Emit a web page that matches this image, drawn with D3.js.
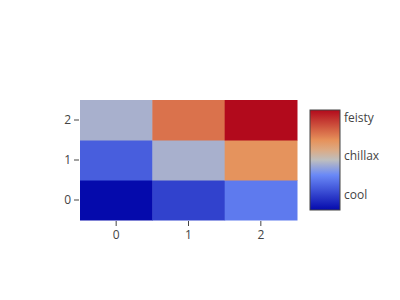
<!DOCTYPE html>
<html>
<head>
<meta charset="utf-8">
<script src="https://cdn.jsdelivr.net/npm/d3@7"></script>
<style>
  body { margin: 0; background: #fff; }
  text { font-family: "Open Sans", sans-serif; font-size: 12px; fill: #444; }
</style>
</head>
<body>
<script>
  // data
  var xCats = [0, 1, 2];
  var yCats = [0, 1, 2];
  // z[row][col], row = y
  var zValues = [
    [0, 1, 2],
    [1.5, 3, 4.5],
    [3, 5, 6.5]
  ];
  var cbTickVals = [1, 3.5, 6];
  var cbTickText = ['cool', 'chillax', 'feisty'];
  // plotly RdBu scale
  var scaleStops = [0, 0.35, 0.5, 0.6, 0.7, 1];
  var scaleColors = ['rgb(5,10,172)', 'rgb(106,137,247)', 'rgb(190,190,190)',
                     'rgb(220,170,132)', 'rgb(230,145,90)', 'rgb(178,10,28)'];

  var width = 400, height = 300;
  var plot = {left: 80, right: 297, top: 100, bottom: 220};
  var cb = {x: 310, w: 30, top: 110, bottom: 210};

  var svg = d3.select('body').append('svg').attr('width', width).attr('height', height);

  var zMin = 0, zMax = 6.5;
  var norm = d3.scaleLinear().domain([zMin, zMax]).range([0, 1]);
  var color = d3.scaleLinear().domain(scaleStops).range(scaleColors).interpolate(d3.interpolateRgb);

  var x = d3.scaleBand().domain(xCats).range([plot.left, plot.right]);
  var y = d3.scaleBand().domain(yCats).range([plot.bottom, plot.top]);

  var cells = [];
  zValues.forEach(function (row, i) {
    row.forEach(function (v, j) {
      cells.push({x: xCats[j], y: yCats[i], v: v});
    });
  });

  svg.append('g').selectAll('rect')
    .data(cells)
    .enter()
    .append('rect')
    .attr('x', function (d) { return x(d.x); })
    .attr('y', function (d) { return y(d.y); })
    .attr('width', x.bandwidth() + 0.5)
    .attr('height', y.bandwidth() + 0.5)
    .attr('fill', function (d) { return color(norm(d.v)); });

  // axes
  var xAxis = svg.append('g')
    .attr('transform', 'translate(0,' + (plot.bottom + 1) + ')')
    .call(d3.axisBottom(x).tickSize(5).tickPadding(4));
  var yAxis = svg.append('g')
    .attr('transform', 'translate(' + (plot.left - 1) + ',0)')
    .call(d3.axisLeft(y).tickSize(5).tickPadding(3));
  [xAxis, yAxis].forEach(function (g) {
    g.select('.domain').remove();
    g.selectAll('line').attr('stroke', '#444');
    g.selectAll('text').style('font-family', '"Open Sans", sans-serif').style('font-size', '12px').attr('fill', '#444');
  });

  // colorbar
  var grad = svg.append('defs').append('linearGradient')
    .attr('id', 'cbgrad').attr('x1', 0).attr('y1', 1).attr('x2', 0).attr('y2', 0);
  grad.selectAll('stop')
    .data(d3.range(0, 1.0001, 0.05))
    .enter()
    .append('stop')
    .attr('offset', function (d) { return d; })
    .attr('stop-color', function (d) { return color(d); });

  svg.append('rect')
    .attr('x', cb.x).attr('y', cb.top)
    .attr('width', cb.w).attr('height', cb.bottom - cb.top)
    .attr('fill', 'url(#cbgrad)')
    .attr('stroke', '#444').attr('stroke-width', 1);

  var cbScale = d3.scaleLinear().domain([zMin, zMax]).range([cb.bottom, cb.top]);
  svg.append('g').selectAll('text')
    .data(cbTickVals)
    .enter()
    .append('text')
    .attr('x', cb.x + cb.w + 4)
    .attr('y', function (d) { return cbScale(d); })
    .attr('dy', '0.35em')
    .text(function (d, i) { return cbTickText[i]; });
</script>
</body>
</html>
